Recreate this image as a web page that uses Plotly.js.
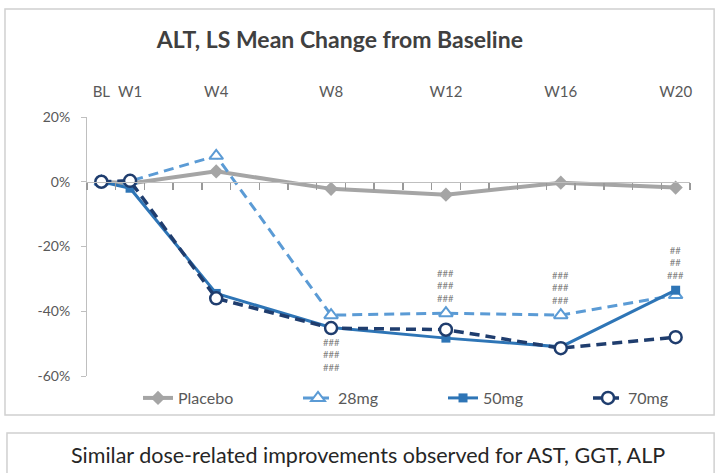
<!DOCTYPE html>
<html>
<head>
<meta charset="utf-8">
<script src="https://cdn.plot.ly/plotly-3.0.1.min.js"></script>
<style>html,body{margin:0;padding:0;background:#fff;}#chart{width:720px;height:473px;}</style>
</head>
<body>
<div id="chart"></div>
<script>
// ---- data ----
const weeks = [0, 1, 4, 8, 12, 16, 20];
const weekLabels = ['BL', 'W1', 'W4', 'W8', 'W12', 'W16', 'W20'];
const placebo = [0, -0.5, 3.2, -2.2, -4.0, -0.3, -1.8];
const mg28 = [0, 0.2, 8.0, -41.2, -40.6, -41.2, -35.0];
const mg50 = [0, -2.0, -34.5, -45.0, -48.3, -51.0, -33.5];
const mg70 = [0, 0.3, -36.0, -45.2, -45.7, -51.4, -48.0];
const seriesNames = ['Placebo', '28mg', '50mg', '70mg'];
const yTicks = [-60, -40, -20, 0, 20];
const yTickLabels = ['-60%', '-40%', '-20%', '0%', '20%'];
// significance markers: week, text, series anchored to, above (1) / below (-1)
const sigWeeks = [8, 12, 16, 20];
const sigLabels = ['###<br>###<br>###', '###<br>###<br>###', '###<br>###<br>###', '##<br>##<br>###'];
const sigSeries = ['70mg', '28mg', '28mg', '50mg'];
const sigSide = [-1, 1, 1, 1];

const seriesData = {'Placebo': placebo, '28mg': mg28, '50mg': mg50, '70mg': mg70};

const FONT = 'Lato, "Open Sans", sans-serif';

const traces = [
  {x: weeks, y: placebo, name: seriesNames[0], type: 'scatter', mode: 'lines+markers', legendwidth: 115,
   line: {color: '#A5A5A5', width: 4}, marker: {symbol: 'diamond', size: 11, color: '#A5A5A5'}},
  {x: weeks, y: mg28, name: seriesNames[1], type: 'scatter', mode: 'lines+markers', legendwidth: 100,
   line: {color: '#5B9BD5', width: 3, dash: '10px,6px'},
   marker: {symbol: 'triangle-up', size: 12, color: '#ffffff', line: {color: '#5B9BD5', width: 2}}},
  {x: weeks, y: mg50, name: seriesNames[2], type: 'scatter', mode: 'lines+markers', legendwidth: 100,
   line: {color: '#2E75B6', width: 3}, marker: {symbol: 'square', size: 9, color: '#2E75B6'}},
  {x: weeks, y: mg70, name: seriesNames[3], type: 'scatter', mode: 'lines+markers', legendwidth: 100,
   line: {color: '#1F3D6E', width: 3.5, dash: '10px,6px'},
   marker: {symbol: 'circle', size: 12, color: '#ffffff', line: {color: '#1F3D6E', width: 2.5}}},
  {x: weeks, y: placebo, xaxis: 'x2', type: 'scatter', mode: 'markers', showlegend: false,
   hoverinfo: 'skip', marker: {opacity: 0}}
];

// half-week tick positions along the zero line
const minorTicks = [];
for (let w = -0.5; w <= 20.5; w += 1) minorTicks.push(w);

const yRange = [-60, 20];
const zeroPos = (0 - yRange[0]) / (yRange[1] - yRange[0]);

const annotations = sigWeeks.map((w, i) => ({
  x: w, y: seriesData[sigSeries[i]][weeks.indexOf(w)], xref: 'x', yref: 'y',
  text: sigLabels[i], showarrow: false,
  yanchor: sigSide[i] > 0 ? 'bottom' : 'top', yshift: sigSide[i] * 7,
  font: {family: FONT, size: 9.5, color: '#7F7F7F'}
}));
annotations.push({
  xref: 'paper', yref: 'paper', x: 0.466, y: -0.305, xanchor: 'center', yanchor: 'middle',
  text: 'Similar dose-related improvements observed for AST, GGT, ALP', showarrow: false,
  font: {family: FONT, size: 21.5, color: '#262626'}
});

const layout = {
  width: 720, height: 473,
  margin: {l: 87, r: 30, t: 117, b: 97, autoexpand: false},
  paper_bgcolor: '#ffffff', plot_bgcolor: 'rgba(0,0,0,0)',
  font: {family: FONT, color: '#595959'},
  title: {text: '<b>ALT, LS Mean Change from Baseline</b>', x: 0.472, xanchor: 'center',
          y: 0.915, yanchor: 'middle', font: {family: FONT, size: 23, color: '#404040'}},
  xaxis: {range: [-0.5, 20.5], anchor: 'free', position: zeroPos, showgrid: false, zeroline: false,
          showline: true, linecolor: '#BFBFBF', linewidth: 1.5, tickmode: 'array', tickvals: minorTicks,
          ticktext: minorTicks.map(() => ''), showticklabels: true, ticks: 'outside', ticklen: 7,
          tickcolor: '#999999', tickwidth: 1.5, automargin: false},
  xaxis2: {range: [-0.5, 20.5], overlaying: 'x', side: 'top', anchor: 'free', position: 1,
           showgrid: false, zeroline: false, showline: false, tickmode: 'array', tickvals: weeks,
           ticktext: weekLabels, ticks: 'outside', ticklen: 14, tickcolor: 'rgba(0,0,0,0)', tickangle: 0,
           automargin: false, tickfont: {family: FONT, size: 15, color: '#595959'}},
  yaxis: {range: yRange, anchor: 'x', showgrid: false, zeroline: false, showline: true,
          linecolor: '#BFBFBF', linewidth: 1, tickmode: 'array', tickvals: yTicks, ticktext: yTickLabels,
          ticks: 'outside', ticklen: 5, tickcolor: '#BFBFBF', ticklabelstandoff: 8, automargin: false,
          tickfont: {family: FONT, size: 14, color: '#595959'}},
  legend: {orientation: 'h', x: 0.0846, xanchor: 'left', y: -0.085, yanchor: 'middle',
           bgcolor: 'rgba(0,0,0,0)', itemwidth: 30,
           font: {family: FONT, size: 16, color: '#595959'}, traceorder: 'normal'},
  annotations: annotations,
  shapes: [
    {type: 'rect', xref: 'paper', yref: 'paper', x0: -0.136, x1: 1.040, y0: -0.1506, y1: 1.417,
     line: {color: '#D0D0D0', width: 1.5}, fillcolor: 'rgba(0,0,0,0)', layer: 'below'},
    {type: 'rect', xref: 'paper', yref: 'paper', x0: -0.1327, x1: 1.040, y0: -0.45, y1: -0.220,
     line: {color: '#D0D0D0', width: 1.5}, fillcolor: 'rgba(0,0,0,0)', layer: 'below'}
  ],
  showlegend: true
};

Plotly.newPlot('chart', traces, layout, {displayModeBar: false, staticPlot: true});
</script>
</body>
</html>
